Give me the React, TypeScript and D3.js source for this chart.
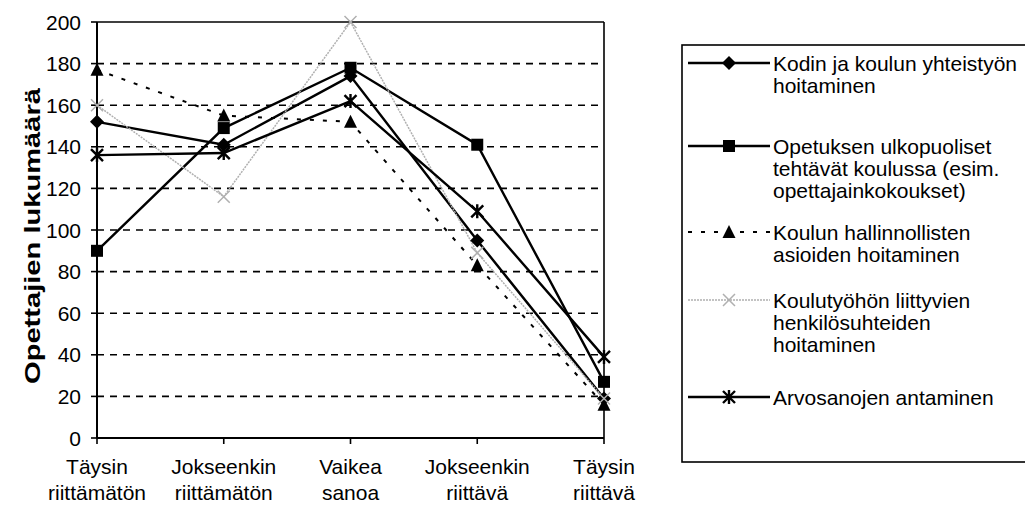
import React from "react";
import * as d3 from "d3";

// Response categories (two-line axis labels)
const categories: string[][] = [
  ["Täysin", "riittämätön"],
  ["Jokseenkin", "riittämätön"],
  ["Vaikea", "sanoa"],
  ["Jokseenkin", "riittävä"],
  ["Täysin", "riittävä"],
];

// Teacher counts per series
const kodinJaKoulun = [152, 141, 174, 95, 19];
const opetuksenUlkopuoliset = [90, 149, 178, 141, 27];
const hallinnollistenAsioiden = [177, 155, 152, 83, 16];
const henkilosuhteiden = [160, 116, 200, 89, 19];
const arvosanojen = [136, 137, 162, 109, 39];

const yTicks = [0, 20, 40, 60, 80, 100, 120, 140, 160, 180, 200];

type Marker = "diamond" | "square" | "triangle" | "cross" | "asterisk";

interface Series {
  label: string[];
  values: number[];
  marker: Marker;
  stroke: string;
  width: number;
  dash?: string;
}

const series: Series[] = [
  { label: ["Kodin ja koulun yhteistyön", "hoitaminen"], values: kodinJaKoulun, marker: "diamond", stroke: "#000", width: 2.4 },
  { label: ["Opetuksen ulkopuoliset", "tehtävät koulussa (esim.", "opettajainkokoukset)"], values: opetuksenUlkopuoliset, marker: "square", stroke: "#000", width: 2.4 },
  { label: ["Koulun hallinnollisten", "asioiden hoitaminen"], values: hallinnollistenAsioiden, marker: "triangle", stroke: "#000", width: 2, dash: "4,9" },
  { label: ["Koulutyöhön liittyvien", "henkilösuhteiden", "hoitaminen"], values: henkilosuhteiden, marker: "cross", stroke: "#b0b0b0", width: 1.5, dash: "2,1" },
  { label: ["Arvosanojen antaminen"], values: arvosanojen, marker: "asterisk", stroke: "#000", width: 2.4 },
];

const legendLineY = [63, 146, 232, 300, 397];

const W = 1025;
const H = 506;
const plot = { left: 97, right: 604, top: 22, bottom: 438 };
const FONT = "'Liberation Sans', Arial, sans-serif";
const FS = 21;

function MarkerShape({ kind, x, y, color }: { kind: Marker; x: number; y: number; color: string }) {
  switch (kind) {
    case "diamond":
      return <path d={`M${x},${y - 7}L${x + 7},${y}L${x},${y + 7}L${x - 7},${y}Z`} fill="#000" />;
    case "square":
      return <rect x={x - 6} y={y - 6} width={12} height={12} fill="#000" />;
    case "triangle":
      return <path d={`M${x},${y - 7}L${x + 6.5},${y + 6}L${x - 6.5},${y + 6}Z`} fill="#000" />;
    case "cross":
      return (
        <path
          d={`M${x - 6},${y - 6}L${x + 6},${y + 6}M${x - 6},${y + 6}L${x + 6},${y - 6}`}
          stroke={color}
          strokeWidth={1.5}
          fill="none"
        />
      );
    case "asterisk":
      return (
        <path
          d={`M${x - 6},${y - 6}L${x + 6},${y + 6}M${x - 6},${y + 6}L${x + 6},${y - 6}M${x},${y - 7}L${x},${y + 7}`}
          stroke="#000"
          strokeWidth={2.4}
          fill="none"
        />
      );
  }
}

export default function App() {
  const x = d3
    .scalePoint<number>()
    .domain(categories.map((_, i) => i))
    .range([plot.left, plot.right])
    .padding(0);
  const y = d3.scaleLinear().domain([0, 200]).range([plot.bottom, plot.top]);

  const line = d3
    .line<number>()
    .x((_, i) => x(i) as number)
    .y((v) => y(v));

  return (
    <svg width={W} height={H} style={{ display: "block", position: "absolute", left: 0, top: 0 }} fontFamily={FONT}>
      <rect width={W} height={H} fill="#fff" />

      {/* dashed horizontal gridlines */}
      {yTicks.slice(1, -1).map((t) => (
        <line key={t} x1={plot.left} x2={plot.right} y1={y(t)} y2={y(t)} stroke="#000" strokeWidth={1.6} strokeDasharray="7,6" />
      ))}

      {/* plot frame: top and right */}
      <line x1={plot.left} x2={plot.right} y1={plot.top} y2={plot.top} stroke="#000" strokeWidth={1.6} />
      <line x1={plot.right} x2={plot.right} y1={plot.top} y2={plot.bottom} stroke="#000" strokeWidth={1.6} />

      {/* axes */}
      <line x1={plot.left} x2={plot.left} y1={plot.top} y2={plot.bottom} stroke="#000" strokeWidth={2} />
      <line x1={plot.left} x2={plot.right} y1={plot.bottom} y2={plot.bottom} stroke="#000" strokeWidth={2} />

      {yTicks.map((t) => (
        <g key={t}>
          <line x1={plot.left - 6} x2={plot.left} y1={y(t)} y2={y(t)} stroke="#000" strokeWidth={1.6} />
          <text x={plot.left - 16} y={y(t)} dy="0.36em" textAnchor="end" fontSize={FS}>
            {t}
          </text>
        </g>
      ))}

      {categories.map((c, i) => (
        <g key={i}>
          <line x1={x(i)} x2={x(i)} y1={plot.bottom} y2={plot.bottom + 6} stroke="#000" strokeWidth={1.6} />
          {c.map((ln, j) => (
            <text key={j} x={x(i)} y={466 + j * 26} dy="0.36em" textAnchor="middle" fontSize={FS}>
              {ln}
            </text>
          ))}
        </g>
      ))}

      <text
        transform={`translate(32,236) rotate(-90)`}
        textAnchor="middle"
        dy="0.36em"
        fontSize={22}
        fontWeight="bold"
        textLength={296}
        lengthAdjust="spacingAndGlyphs"
      >
        Opettajien lukumäärä
      </text>

      {/* series lines */}
      {series.map((s, si) => (
        <path
          key={si}
          d={line(s.values) ?? ""}
          fill="none"
          stroke={s.stroke}
          strokeWidth={s.width}
          strokeDasharray={s.dash}
        />
      ))}
      {series.map((s, si) => (
        <g key={si}>
          {s.values.map((v, i) => (
            <MarkerShape key={i} kind={s.marker} x={x(i) as number} y={y(v)} color={s.stroke} />
          ))}
        </g>
      ))}

      {/* legend */}
      <rect x={682} y={45} width={360} height={417} fill="none" stroke="#000" strokeWidth={1.6} />
      {series.map((s, si) => {
        const ly = legendLineY[si];
        return (
          <g key={si}>
            <line x1={688} x2={770} y1={ly} y2={ly} stroke={s.stroke} strokeWidth={s.width} strokeDasharray={s.dash} />
            <MarkerShape kind={s.marker} x={729} y={ly} color={s.stroke} />
            {s.label.map((ln, j) => (
              <text key={j} x={773} y={ly + j * 22} dy="0.36em" fontSize={FS}>
                {ln}
              </text>
            ))}
          </g>
        );
      })}
    </svg>
  );
}
